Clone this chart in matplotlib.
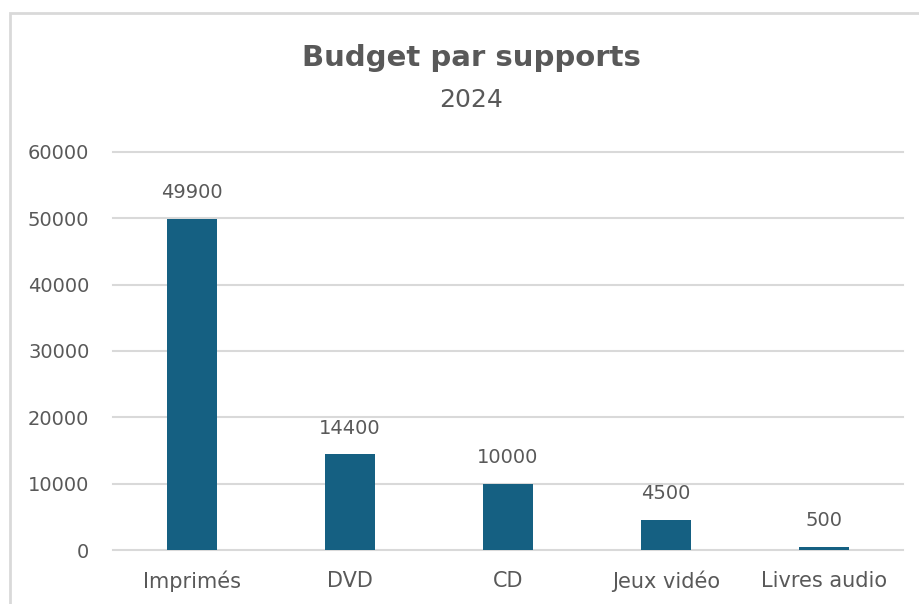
import matplotlib.pyplot as plt
from matplotlib.patches import Rectangle

categories = ['Imprimés', 'DVD', 'CD', 'Jeux vidéo', 'Livres audio']
budget = [49900, 14400, 10000, 4500, 500]
yticks = [0, 10000, 20000, 30000, 40000, 50000, 60000]

bar_color = '#156082'
text_color = '#595959'
grid_color = '#d9d9d9'

plt.rcParams['font.family'] = ['DejaVu Sans']

fig = plt.figure(figsize=(9.2, 6.04), dpi=100)
W, H = 920, 604

# chart frame (cropped on right and bottom)
fig.patches.append(Rectangle((10 / W, -0.1), 1.2, 1 - 13 / H + 0.1,
                             transform=fig.transFigure, fill=False,
                             edgecolor=grid_color, linewidth=2))

ax = fig.add_axes([113 / W, 1 - 550 / H, 790 / W, 398 / H])
x = range(len(categories))
ax.bar(x, budget, width=0.316, color=bar_color, zorder=3)

for t in yticks:
    ax.axhline(t, color=grid_color, linewidth=1.5, zorder=0, clip_on=False)

for i, v in enumerate(budget):
    ax.annotate(str(v), (i, v), xytext=(0, 19), textcoords='offset points',
                ha='center', va='center', fontsize=14, color=text_color)

ax.set_xlim(-0.5, len(categories) - 0.5)
ax.set_ylim(0, 60000)
ax.set_yticks(yticks)
ax.set_yticklabels([str(t) for t in yticks], fontsize=14, color=text_color)
ax.set_xticks(list(x))
ax.set_xticklabels(categories, fontsize=15, color=text_color)
ax.tick_params(axis='y', length=0, pad=17)
ax.tick_params(axis='x', length=0, pad=15)
for s in ax.spines.values():
    s.set_visible(False)

fig.text(471 / W, 1 - 58 / H, 'Budget par supports', ha='center', va='center',
         fontsize=21, fontweight='bold', color=text_color)
fig.text(471 / W, 1 - 100 / H, '2024', ha='center', va='center',
         fontsize=18, color=text_color)

fig.savefig('out.png', dpi=100)
